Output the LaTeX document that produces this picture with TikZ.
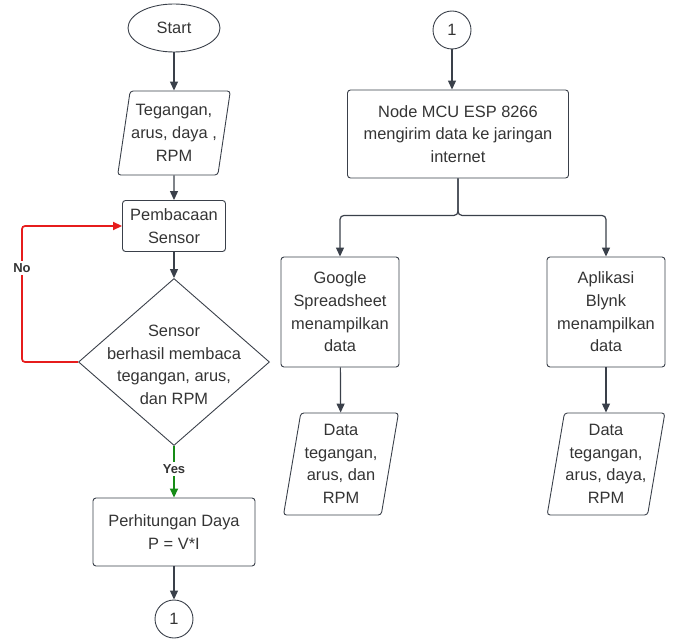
\documentclass[tikz,border=0pt]{standalone}
\usepackage{fontspec}
\setmainfont{Liberation Sans}
\usetikzlibrary{shapes.geometric}
\usetikzlibrary{arrows.meta}
\definecolor{line1}{RGB}{58, 64, 74}
\definecolor{red1}{RGB}{230, 28, 28}
\definecolor{green1}{RGB}{22, 140, 22}
\definecolor{text1}{RGB}{52, 52, 52}

\begin{document}
\begin{tikzpicture}[x=1pt, y=-1pt, line width=1.2pt,
  >={Triangle[length=9pt,width=8pt]},
  every node/.style={text=text1, align=center, inner sep=1pt,
    font=\fontsize{16.4}{22.7}\selectfont},
  proc/.style={rectangle, rounded corners=3pt, draw=line1, line width=0.9pt},
  io/.style={trapezium, trapezium left angle=78, trapezium right angle=102,
    trapezium stretches body, rounded corners=3pt, draw=line1, line width=0.9pt},
  term/.style={ellipse, draw=line1, line width=0.9pt, minimum width=92pt, minimum height=48pt},
  conn/.style={circle, draw=line1, line width=0.9pt, minimum size=38pt},
  lbl/.style={fill=white, inner sep=2pt, font=\fontsize{13}{15}\selectfont\bfseries}]
 \useasboundingbox (0,0) rectangle (675,639);
 % left column
  \node[term] (start) at (174,28) {Start};
  \node[io, minimum width=109pt, minimum height=84pt] (inp) at (174,133) {Tegangan,\\arus, daya ,\\RPM};
  \node[proc, minimum width=103pt, minimum height=51pt] (read) at (174,226) {Pembacaan\\Sensor};
  \node[diamond, draw=line1, line width=0.9pt, minimum width=191pt, minimum height=167pt] (dec) at (174,362) {};
  \node (dectxt) at (174,365) {Sensor\\berhasil membaca\\tegangan, arus,\\dan RPM};
  \node[proc, minimum width=162pt, minimum height=68pt] (calc) at (174,532) {Perhitungan Daya\\P = V*I};
  \node[conn] (con1) at (174,619) {1};
  \node[lbl] (no) at (22,268) {No};
  \node[lbl] (yes) at (174,469) {Yes};

 % right column
  \node[conn] (con2) at (452,30) {1};
  \node[proc, minimum width=221pt, minimum height=88pt] (mcu) at (458,134) {Node MCU ESP 8266\\mengirim data ke jaringan\\internet};
  \node[proc, minimum width=118pt, minimum height=110pt] (google) at (340,312) {Google\\Spreadsheet\\menampilkan\\data};
  \node[proc, minimum width=118pt, minimum height=110pt] (blynk) at (606,312) {Aplikasi\\Blynk\\menampilkan\\data};
  \node[io, minimum width=115pt, minimum height=102pt] (out1) at (341,464) {Data\\tegangan,\\arus, dan\\RPM};
  \node[io, minimum width=116pt, minimum height=102pt] (out2) at (606,464) {Data\\tegangan,\\arus, daya,\\RPM};

  \foreach \from/\to in {start/inp, inp/read, read/dec, calc/con1, google/out1, blynk/out2}
   \draw[draw=line1,->] (\from) -- (\to);
  \draw[draw=line1,->] (con2.south) -- (con2.south |- mcu.north);
  \draw[draw=line1,->,rounded corners=4pt] (mcu.south) -- ++(0,37) -| (google.north);
  \draw[draw=line1,->,rounded corners=4pt] (mcu.south) -- ++(0,37) -| (blynk.north);
  % loop back and go on
  \draw[draw=red1,line width=1.7pt,rounded corners=3pt] (dec.west) -| (no.south);
  \draw[draw=red1,line width=1.7pt,->,rounded corners=3pt] (no.north) |- (read.west);
  \draw[draw=green1,line width=1.7pt] (dec.south) -- (yes.north);
  \draw[draw=green1,line width=1.7pt,->] (yes.south) -- (calc.north);
    \end{tikzpicture}
\end{document}
